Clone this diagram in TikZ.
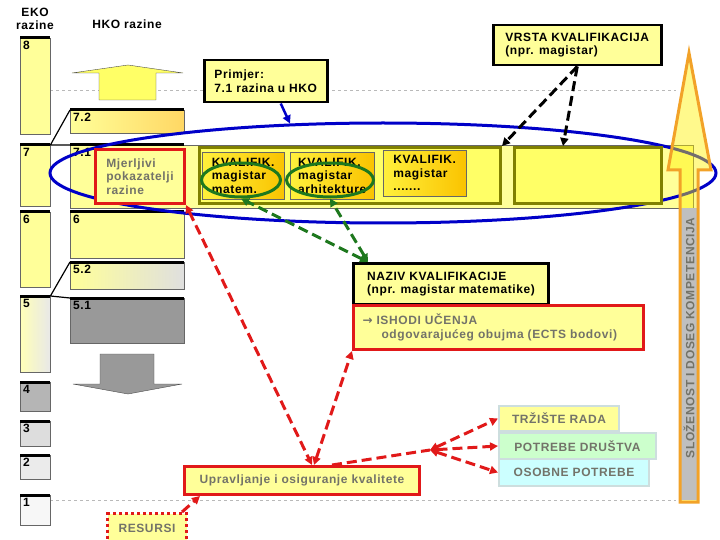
\documentclass[tikz,border=0pt]{standalone}
\usepackage{fontspec}
\setmainfont{Liberation Sans}[LetterSpace=5]
\newfontfamily\symfont{DejaVu Sans}
\usetikzlibrary{arrows.meta,positioning,shapes.geometric,calc}
\definecolor{lemon}{RGB}{255,255,153}
\definecolor{butter}{RGB}{255,255,102}
\definecolor{frameolive}{RGB}{128,128,0}
\definecolor{sun}{RGB}{255,240,60}
\definecolor{gold}{RGB}{250,195,0}
\definecolor{peach}{RGB}{255,215,100}
\definecolor{navy}{RGB}{0,0,200}
\definecolor{forest}{RGB}{30,120,30}
\definecolor{crimson}{RGB}{225,25,25}
\definecolor{tangerine}{RGB}{242,162,40}
\definecolor{slate}{RGB}{115,115,105}
\definecolor{mint}{RGB}{204,255,204}
\definecolor{ice}{RGB}{204,255,255}
\definecolor{mist}{RGB}{205,222,222}
\newcommand{\deckfont}{\fontsize{12}{13.5}\selectfont\bfseries}
\tikzset{
  >={Triangle[length=8pt,width=8pt]},
  every node/.style={font=\deckfont},
  tier/.style={draw=black!60,fill=#1,anchor=north west,inner sep=0pt},
  tier/.default=lemon,
  lvl/.style={anchor=north west,inner sep=3pt},
  topbar/.style={line width=3pt},
  note/.style={draw=black,line width=2.5pt,fill=lemon,anchor=north west,align=left,inner sep=0pt},
  redbox/.style={draw=crimson,line width=3pt,fill=lemon,anchor=north west,align=left,text=slate,inner sep=0pt},
  kval/.style={draw=black!60,left color=sun,right color=gold,anchor=north west,align=left,inner sep=0pt},
  tray/.style={draw=frameolive,line width=3pt,fill=butter,anchor=north west,inner sep=0pt},
  ring/.style={ellipse,draw=forest,line width=3pt,inner sep=0pt},
  need/.style={draw=mist,line width=2pt,fill=#1,anchor=north west,text=slate,inner sep=0pt},
  need/.default=lemon,
  link/.style={line width=3pt,dash pattern=on 10pt off 5pt,draw=#1},
  link/.default=crimson,
}

\begin{document}
\begin{tikzpicture}[x=1pt,y=-1pt]
  \path[use as bounding box,fill=white] (0,0) rectangle (720,540);
  \clip (0,0) rectangle (720,540);
  % guides
  \draw[gray!55,dashed] (50,90) -- (676,90) (50,500) -- (676,500);
  \node (ekohead) at (35,19) [align=center] {EKO\\razine};
  \node (hkohead) at (127,24) {HKO razine};
  % EKO levels
  \node[tier,minimum width=30,minimum height=96,label={[lvl]north west:8}] (e8) at (20,38) {};
  \node[tier,minimum width=30,minimum height=61,label={[lvl]north west:7}] (e7) at (20,145) {};
  \node[tier,minimum width=30,minimum height=75,label={[lvl]north west:6}] (e6) at (20,212) {};
  \node[tier,left color=lemon!70,right color=gray!18,minimum width=30,minimum height=76,label={[lvl]north west:5}] (e5) at (20,296) {};
  \node[tier=gray!58,minimum width=30,minimum height=29,label={[lvl]north west:4}] (e4) at (20,382) {};
  \node[tier=gray!27,minimum width=30,minimum height=25,label={[lvl]north west:3}] (e3) at (20,421) {};
  \node[tier=gray!16,minimum width=30,minimum height=24,label={[lvl]north west:2}] (e2) at (20,455) {};
  \node[tier=gray!6,minimum width=30,minimum height=30,label={[lvl]north west:1}] (e1) at (20,495) {};
  % HKO levels
  \node[tier,left color=lemon,right color=peach,minimum width=114,minimum height=23,label={[lvl]north west:7.2}] (h72) at (70,110) {};
  \node[tier,minimum width=623,minimum height=63,label={[lvl]north west:7.1}] (h71) at (70,145) {};
  \node[tier,minimum width=114,minimum height=46,label={[lvl]north west:6}] (h6) at (70,212) {};
  \node[tier,left color=lemon,right color=gray!25,minimum width=114,minimum height=27,label={[lvl]north west:5.2}] (h52) at (70,262) {};
  \node[tier=gray!80,minimum width=114,minimum height=45,label={[lvl]north west:5.1}] (h51) at (70,298) {};
  \foreach \n in {e8,e7,e6,e5,e4,e3,e2,e1,h72,h6,h52,h51}
    \draw[topbar] (\n.north west) -- (\n.north east);
  \draw[topbar] (h71.north west) -- ++(114,0);
  \draw[line width=1.2pt] (e7.north east) -- (h72.north west) (e7.north east) -- (h71.north west)
    (e5.north east) -- (h52.north west) (e5.north east) -- (h51.north west);
  \draw[black!70,fill=butter] (99,100) -- (99,73) -- (72,73) -- (128,65) -- (183,73) -- (156,73) -- (156,100) -- cycle;
  \draw[black!70,fill=gray!80] (100,354) -- (154,354) -- (154,384) -- (182,384) -- (128,394) -- (73,384) -- (100,384) -- cycle;
  % the level 7 oval
  \node[ellipse,draw=navy,line width=3pt,minimum width=666,minimum height=100,inner sep=0pt] (oval) at (383,173) {};
  % qualifications at level 7.1
  \node[redbox,minimum width=89,minimum height=54] (mj) at (94,148) {Mjerljivi\\pokazatelji\\razine};
  \node[tray,minimum width=301,minimum height=56] (g1) at (198,146) {};
  \node[tray,minimum width=147,minimum height=56] (g2) at (513,146) {};
  \node[kval,minimum width=82,minimum height=47] (k1) at (202,152) {KVALIFIK.\\magistar\\matem.};
  \node[kval,minimum width=84,minimum height=47] (k2) at (290,152) {KVALIFIK.\\magistar\\arhitekture};
  \node[kval,minimum width=83,minimum height=46] (k3) at (383,150) {KVALIFIK.\\magistar\\.......};
  \node[ring,minimum width=79,minimum height=34] (el1) at (241,180) {};
  \node[ring,minimum width=87,minimum height=34] (el2) at (330,180) {};
  % notes
  \node[note,minimum width=123,minimum height=42] (prim) at (203,59) {Primjer:\\7.1 razina u HKO};
  \node[note,minimum width=168,minimum height=40] (vrsta) at (492,24) {VRSTA KVALIFIKACIJA\\(npr. magistar)};
  \node[note,line width=3pt,minimum width=195,minimum height=41] (naz) at (352,262) {NAZIV KVALIFIKACIJE\\(npr. magistar matematike)};
  \node[redbox,text width=272,minimum width=290,minimum height=44] (ish) at (352,304) {{\symfont\bfseries →} ISHODI UČENJA\\\hspace*{19pt}odgovarajućeg obujma (ECTS bodovi)};
  \node[redbox,align=center,minimum width=235,minimum height=28] (upr) at (183,465) {Upravljanje i osiguranje kvalitete};
  \node[redbox,dashed,align=center,minimum width=79,minimum height=30] (res) at (106,512) {RESURSI};
  \node[need,minimum width=120,minimum height=25] (tr) at (498,405) {TRŽIŠTE RADA};
  \node[need=mint,minimum width=157,minimum height=26] (pd) at (498,432) {POTREBE DRUŠTVA};
  \node[need=ice,minimum width=150,minimum height=27] (op) at (498,458) {OSOBNE POTREBE};
  % competence arrow
  \fill[yellow,fill opacity=0.45] (680,502) -- (680,170) -- (668,170) -- (689,53) -- (711,170) -- (698,170) -- (698,502) -- cycle;
  \fill[gray!50] (680,208) rectangle (698,500);
  \draw[tangerine,line width=3pt] (680,502) -- (680,170) -- (668,170) -- (689,53) -- (711,170) -- (698,170) -- (698,502) -- cycle;
  \node[rotate=90,text=slate] (skill) at (689,338) {SLOŽENOST I DOSEG KOMPETENCIJA};
  % connectors
  \coordinate (fork) at (430,450);
  \draw[->,navy,line width=2.5pt] ([xshift=15]prim.south) -- (oval.152);
  \draw[->,link=black] (vrsta.south) -- (g1.north east);
  \draw[->,link=black] (vrsta.south) -- ([xshift=50]g2.north west);
  \draw[<->,link=forest] ([xshift=16]naz.north west) -- (el1.south);
  \draw[<->,link=forest] ([xshift=16]naz.north west) -- (el2.south);
  \draw[<->,link] (mj.south east) -- ([xshift=10]upr.north);
  \draw[<->,link] ([xshift=12]upr.north) -- (ish.south west);
  \draw[link] ([xshift=30]upr.north) -- (fork);
  \foreach \t in {tr,pd,op}
    \draw[<->,link] (fork) -- (\t.west);
  \draw[->,link] ([xshift=-6]res.north east) -- ([xshift=17]upr.south west);
\end{tikzpicture}
\end{document}
